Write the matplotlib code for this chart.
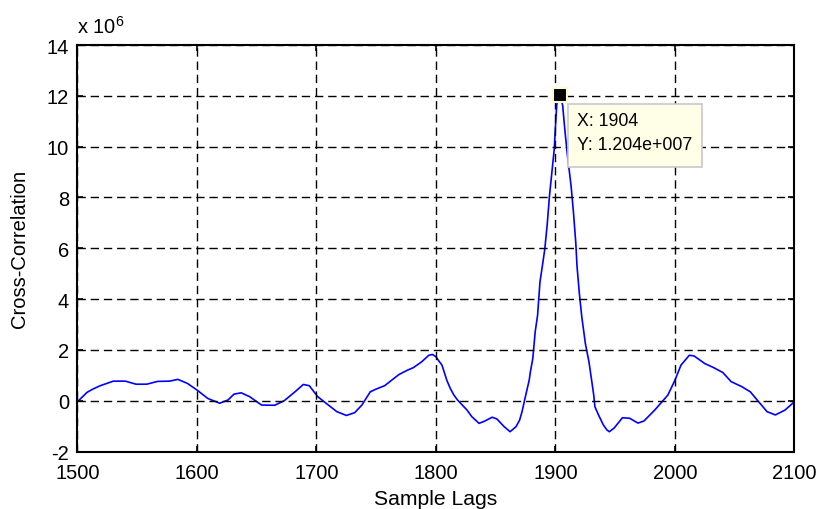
import matplotlib
matplotlib.use("Agg")
import matplotlib.pyplot as plt
from matplotlib.patches import Rectangle
from matplotlib.transforms import IdentityTransform

plt.rcParams['font.family'] = ['Liberation Sans', 'DejaVu Sans']
plt.rcParams['mathtext.fontset'] = 'custom'
plt.rcParams['mathtext.rm'] = 'Liberation Sans'
plt.rcParams['axes.unicode_minus'] = False

# Sample lags and cross-correlation values (units of 1e6)
lags = [1500, 1508, 1513, 1519, 1530, 1540, 1549, 1558, 1567, 1577, 1584, 1592,
        1600, 1609, 1619, 1626, 1631, 1637, 1644, 1654, 1665, 1673, 1682, 1689,
        1694, 1701, 1708, 1717, 1725, 1732, 1738, 1745, 1750, 1757, 1769, 1776,
        1781, 1788, 1794, 1797, 1800, 1802, 1805, 1809, 1812, 1815, 1818, 1822,
        1826, 1830, 1836, 1840, 1847, 1851, 1857, 1862, 1867, 1870, 1872, 1875,
        1878, 1879, 1881, 1882, 1883, 1885, 1886, 1887, 1889, 1891, 1893, 1895,
        1897, 1899, 1900, 1901, 1902, 1904, 1906, 1908, 1910, 1913, 1915, 1917,
        1918, 1920, 1922, 1924, 1925, 1928, 1930, 1932, 1933, 1936, 1940, 1943,
        1945, 1949, 1956, 1962, 1969, 1974, 1983, 1994, 2000, 2005, 2012, 2016,
        2025, 2032, 2040, 2047, 2056, 2063, 2070, 2077, 2084, 2092, 2100]
xcorr = [-0.04, 0.33, 0.46, 0.59, 0.77, 0.77, 0.65, 0.65, 0.76, 0.77, 0.84, 0.68,
         0.42, 0.09, -0.10, 0.03, 0.26, 0.31, 0.16, -0.17, -0.18, 0.0, 0.35, 0.64,
         0.59, 0.16, -0.10, -0.43, -0.58, -0.47, -0.17, 0.35, 0.46, 0.59, 1.03, 1.20,
         1.30, 1.53, 1.79, 1.82, 1.73, 1.59, 1.40, 0.81, 0.48, 0.22, 0.03, -0.17,
         -0.37, -0.63, -0.89, -0.82, -0.65, -0.72, -1.02, -1.22, -1.02, -0.76, -0.43, 0.20,
         0.81, 1.14, 1.66, 2.18, 2.71, 3.36, 4.01, 4.67, 5.30, 5.95, 6.90, 8.08,
         9.00, 9.92, 10.83, 11.62, 11.9, 12.04, 11.62, 10.57, 9.65, 8.47, 7.43, 6.20,
         5.30, 4.20, 3.30, 2.60, 2.25, 1.53, 0.88, 0.22, -0.24, -0.56, -0.95, -1.15,
         -1.22, -1.08, -0.67, -0.69, -0.88, -0.80, -0.37, 0.22, 0.81, 1.40, 1.79, 1.76,
         1.46, 1.31, 1.11, 0.75, 0.55, 0.35, -0.04, -0.43, -0.56, -0.37, -0.04]

xticks = [1500, 1600, 1700, 1800, 1900, 2000, 2100]
yticks = [-2, 0, 2, 4, 6, 8, 10, 12, 14]
peak_x = 1904
peak_y = 12.04
tip_text = "X: 1904\nY: 1.204e+007"

fig = plt.figure(figsize=(8.2, 5.1), dpi=100)
ax = fig.add_axes([0.0945, 0.1127, 0.8744, 0.7971])

ax.plot(lags, xcorr, color='#0000ff', lw=1.2)
ax.set_xlim(1500, 2100)
ax.set_ylim(-2, 14)
ax.set_xticks(xticks)
ax.set_yticks(yticks)
ax.tick_params(direction='in', length=4, width=1.2, labelsize=14.5, top=True, right=True)
ax.tick_params(axis='x', pad=8)
ax.tick_params(axis='y', pad=6)
for s in ax.spines.values():
    s.set_linewidth(1.5)
ax.grid(True, color='black', linestyle=(0, (6, 3.5)), linewidth=1.0)
ax.set_axisbelow(False)

ax.set_xlabel('Sample Lags', fontsize=15.2, labelpad=5)
ax.set_ylabel('Cross-Correlation', fontsize=14.5, labelpad=13)

ax.text(0.0, 1.02, r'x 10$^{6}$', transform=ax.transAxes, fontsize=14.5, ha='left', va='bottom')

ax.plot([peak_x], [peak_y], marker='s', markersize=10, color='black',
        markeredgecolor='#fffbd0', markeredgewidth=1.5, zorder=5)

# datatip box in display pixels, anchored to the peak's display position
fig.canvas.draw()
px, py = ax.transData.transform((peak_x, peak_y))
box = Rectangle((px + 8, py - 72), 134, 63, transform=IdentityTransform(),
                facecolor='#ffffe8', edgecolor='#c8c8c8', lw=1.2, zorder=6)
fig.add_artist(box)
fig.text(px + 17, py - 17, tip_text, transform=IdentityTransform(), ha='left', va='top',
         fontsize=12.8, linespacing=1.55, zorder=7)

fig.savefig('out.png', dpi=100)
